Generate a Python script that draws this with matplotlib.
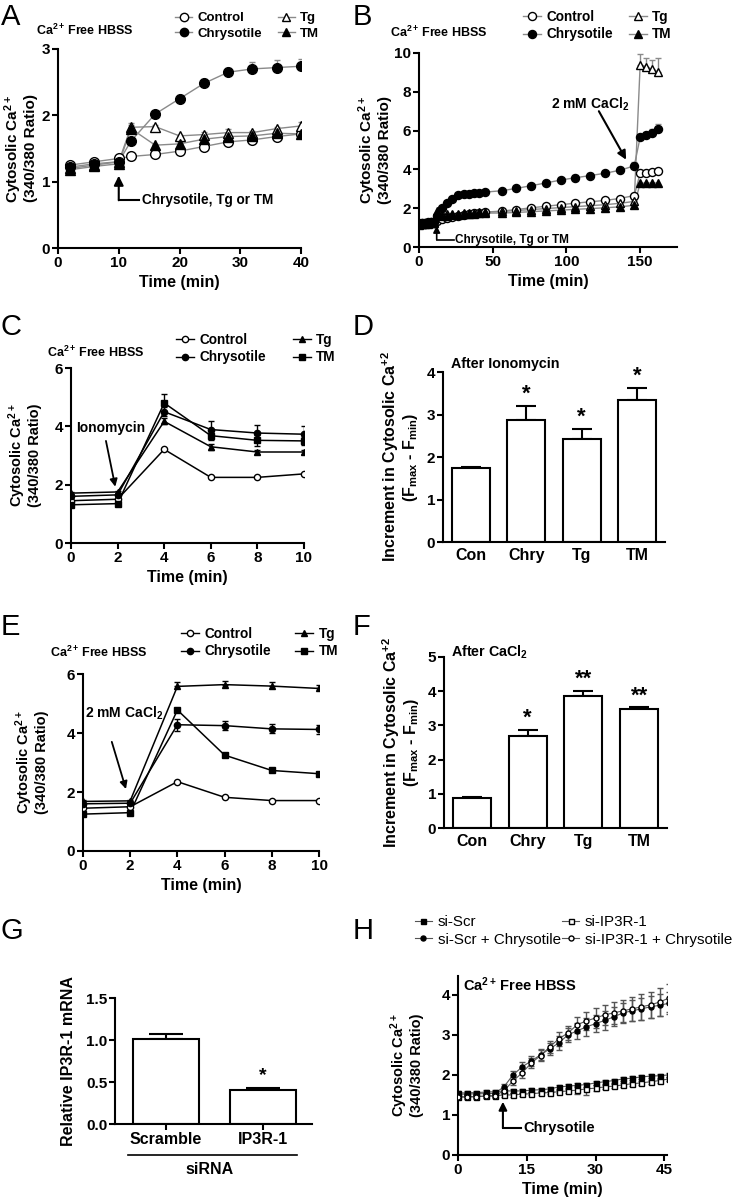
import matplotlib
matplotlib.use('Agg')
import matplotlib.pyplot as plt
from matplotlib.lines import Line2D
import numpy as np

W, H = 745, 1201
plt.rcParams.update({
    'font.family': ['Liberation Sans', 'DejaVu Sans'],
    'font.weight': 'bold',
    'axes.labelweight': 'bold',
    'mathtext.fontset': 'custom',
    'mathtext.rm': 'Liberation Sans:bold',
    'mathtext.it': 'Liberation Sans:bold',
    'mathtext.bf': 'Liberation Sans:bold',
    'mathtext.sf': 'Liberation Sans:bold',
    'axes.linewidth': 1.5,
    'xtick.major.width': 1.5, 'ytick.major.width': 1.5,
    'xtick.major.size': 4, 'ytick.major.size': 4,
    'xtick.labelsize': 11, 'ytick.labelsize': 11,
    'xtick.major.pad': 1.5, 'ytick.major.pad': 1.5,
})

# ---------------- data ----------------
# Panel A
a_time = [2, 6, 10, 12, 16, 20, 24, 28, 32, 36, 40]
a_control = [1.25, 1.30, 1.35, 1.38, 1.41, 1.46, 1.53, 1.60, 1.63, 1.68, 1.72]
a_control_err = [0.02, 0.02, 0.02, 0.02, 0.02, 0.04, 0.05, 0.03, 0.03, 0.04, 0.04]
a_chry = [1.22, 1.27, 1.30, 1.61, 2.02, 2.25, 2.48, 2.65, 2.70, 2.72, 2.74]
a_chry_err = [0.02, 0.02, 0.02, 0.03, 0.03, 0.05, 0.07, 0.07, 0.10, 0.11, 0.11]
a_tg = [1.20, 1.25, 1.30, 1.82, 1.83, 1.69, 1.71, 1.74, 1.74, 1.80, 1.84]
a_tg_err = [0.02, 0.02, 0.02, 0.06, 0.02, 0.02, 0.04, 0.06, 0.03, 0.03, 0.06]
a_tm = [1.18, 1.23, 1.27, 1.80, 1.55, 1.57, 1.64, 1.68, 1.69, 1.73, 1.72]
a_tm_err = [0.02, 0.02, 0.02, 0.05, 0.02, 0.03, 0.04, 0.04, 0.04, 0.03, 0.03]

# Panel B
b_time = [0, 2, 4, 6, 8, 10, 12, 15.5, 19, 22.5, 26.5, 30.5, 34, 37.5, 41, 45,
          56, 66, 76, 86, 96, 106, 116, 126, 136, 146, 150, 154, 158, 162]
b_control = [1.20, 1.22, 1.24, 1.25, 1.27, 1.28, 1.35, 1.45, 1.50, 1.55, 1.60, 1.65, 1.70, 1.73, 1.76, 1.80,
             1.85, 1.93, 2.02, 2.10, 2.18, 2.26, 2.33, 2.40, 2.50, 2.65, 3.80, 3.83, 3.87, 3.93]
b_chry = [1.22, 1.24, 1.25, 1.27, 1.28, 1.30, 1.60, 2.03, 2.25, 2.50, 2.66, 2.72, 2.75, 2.77, 2.78, 2.83,
          2.90, 3.02, 3.16, 3.30, 3.45, 3.57, 3.68, 3.80, 3.95, 4.18, 5.65, 5.77, 5.89, 6.07]
b_chry_err = [0.05, 0.05, 0.05, 0.05, 0.05, 0.05, 0.08, 0.08, 0.08, 0.08, 0.08, 0.08, 0.08, 0.08, 0.08, 0.08,
              0.10, 0.10, 0.10, 0.10, 0.12, 0.12, 0.12, 0.12, 0.15, 0.18, 0.15, 0.18, 0.20, 0.28]
b_tg = [1.18, 1.20, 1.22, 1.23, 1.25, 1.27, 1.65, 1.68, 1.68, 1.70, 1.72, 1.73, 1.75, 1.76, 1.78, 1.80,
        1.83, 1.88, 1.93, 1.98, 2.03, 2.08, 2.13, 2.18, 2.25, 2.35, 9.38, 9.30, 9.16, 9.04]
b_tg_err = [0.05] * 26 + [0.55, 0.45, 0.50, 0.70]
b_tm = [1.15, 1.17, 1.19, 1.20, 1.22, 1.24, 1.85, 1.60, 1.62, 1.65, 1.67, 1.68, 1.70, 1.72, 1.73, 1.75,
        1.75, 1.78, 1.82, 1.86, 1.90, 1.94, 1.98, 2.02, 2.07, 2.15, 3.28, 3.30, 3.30, 3.30]

# Panel C (ionomycin)
c_time = [0, 2, 4, 6, 8, 10]
c_control = [1.45, 1.50, 3.21, 2.25, 2.25, 2.37]
c_chry = [1.60, 1.65, 4.50, 3.89, 3.77, 3.73]
c_chry_err = [0.05, 0.05, 0.15, 0.28, 0.27, 0.27]
c_tg = [1.71, 1.75, 4.17, 3.30, 3.12, 3.12]
c_tg_err = [0.03, 0.03, 0.10, 0.10, 0.08, 0.08]
c_tm = [1.31, 1.35, 4.80, 3.68, 3.52, 3.50]
c_tm_err = [0.03, 0.03, 0.30, 0.15, 0.20, 0.15]

# Panel D
bar_groups = ['Con', 'Chry', 'Tg', 'TM']
d_vals = [1.73, 2.88, 2.43, 3.34]
d_err = [0.04, 0.33, 0.23, 0.29]
d_sig = ['', '*', '*', '*']

# Panel E (CaCl2)
e_time = [0, 2, 4, 6, 8, 10]
e_control = [1.45, 1.50, 2.35, 1.82, 1.71, 1.71]
e_chry = [1.60, 1.62, 4.28, 4.25, 4.14, 4.12]
e_chry_err = [0.04, 0.04, 0.20, 0.16, 0.15, 0.15]
e_tg = [1.68, 1.70, 5.58, 5.64, 5.59, 5.51]
e_tg_err = [0.04, 0.04, 0.14, 0.13, 0.13, 0.12]
e_tm = [1.25, 1.30, 4.78, 3.25, 2.73, 2.62]
e_tm_err = [0.03, 0.03, 0.06, 0.05, 0.05, 0.05]

# Panel F
f_vals = [0.88, 2.70, 3.87, 3.48]
f_err = [0.03, 0.18, 0.15, 0.05]
f_sig = ['', '*', '**', '**']

# Panel G
g_groups = ['Scramble', 'IP3R-1']
g_vals = [1.01, 0.40]
g_err = [0.06, 0.03]
g_sig = ['', '*']

# Panel H
h_time = [0, 2, 4, 6, 8, 10, 12, 14, 16, 18, 20, 22, 24, 26, 28, 30, 32, 34, 36, 38, 40, 42, 44, 46]
h_scr = [1.55, 1.55, 1.56, 1.57, 1.58, 1.60, 1.60, 1.60, 1.62, 1.63, 1.65, 1.70, 1.72, 1.74,
         1.76, 1.80, 1.83, 1.86, 1.90, 1.92, 1.95, 1.97, 1.98, 2.00]
h_scr_err = [0.05] * 24
h_scr_chry = [1.52, 1.52, 1.53, 1.53, 1.54, 1.70, 2.00, 2.20, 2.35, 2.50, 2.65, 2.80, 3.00, 3.10,
              3.20, 3.28, 3.36, 3.45, 3.55, 3.60, 3.65, 3.70, 3.74, 3.79]
h_scr_chry_err = [0.05, 0.05, 0.05, 0.05, 0.05, 0.08, 0.10, 0.12, 0.12, 0.14, 0.15, 0.17, 0.18, 0.20,
                  0.22, 0.22, 0.24, 0.24, 0.25, 0.26, 0.27, 0.28, 0.28, 0.28]
h_ip3 = [1.45, 1.45, 1.46, 1.47, 1.48, 1.50, 1.50, 1.52, 1.53, 1.55, 1.56, 1.58, 1.60, 1.62,
         1.65, 1.67, 1.70, 1.72, 1.75, 1.78, 1.80, 1.83, 1.86, 1.90]
h_ip3_err = [0.04] * 13 + [0.10, 0.15, 0.08] + [0.05] * 8
h_ip3_chry = [1.45, 1.45, 1.46, 1.47, 1.48, 1.60, 1.85, 2.05, 2.30, 2.48, 2.70, 2.90, 3.05, 3.25,
              3.35, 3.42, 3.50, 3.55, 3.60, 3.65, 3.70, 3.75, 3.82, 3.92]
h_ip3_chry_err = [0.05, 0.05, 0.05, 0.05, 0.05, 0.08, 0.10, 0.12, 0.12, 0.14, 0.15, 0.17, 0.18, 0.20,
                  0.22, 0.24, 0.25, 0.27, 0.28, 0.30, 0.32, 0.33, 0.35, 0.36]

# ---------------- helpers ----------------
fig = plt.figure(figsize=(W / 100, H / 100), dpi=100)

HBSS = 'Ca$^{2+}\\,$Free HBSS'
YLAB = 'Cytosolic Ca$^{2+}$\n(340/380 Ratio)'


def add_ax(x0, ytop, x1, ybot):
    ax = fig.add_axes([x0 / W, 1 - ybot / H, (x1 - x0) / W, (ybot - ytop) / H])
    ax.spines['top'].set_visible(False)
    ax.spines['right'].set_visible(False)
    ax.tick_params(direction='out')
    return ax


def letter(x, y, s):
    fig.text(x / W, 1 - y / H, s, fontsize=21, fontweight='normal', ha='left', va='top')


def ftext(x, y, s, **kw):
    fig.text(x / W, 1 - y / H, s, **kw)


def series(ax, x, y, err, marker, filled, color, ms, lw, both=False, capsize=2.5):
    if err is not None:
        lo = err if both else [0] * len(err)
        ax.errorbar(x, y, yerr=[lo, err], fmt='none', ecolor=color, elinewidth=1,
                    capsize=capsize, capthick=1, zorder=2)
    ax.plot(x, y, color=color, lw=lw, zorder=3)
    ax.plot(x, y, ls='none', marker=marker, ms=ms, mfc='k' if filled else 'white',
            mec='k', mew=1, zorder=4)


def handle(marker, filled, color, ms, lw):
    return Line2D([], [], color=color, lw=lw, marker=marker, ms=ms,
                  mfc='k' if filled else 'white', mec='k', mew=1)


def legend_at(ax, handles, labels, x, y, fs, weight='bold', hl=1.3, cs=1.2):
    ax.legend(handles, labels, ncol=2, loc='upper left', bbox_to_anchor=(x / W, 1 - y / H),
              bbox_transform=fig.transFigure, frameon=False, borderpad=0, borderaxespad=0,
              handlelength=hl, handletextpad=0.4, columnspacing=cs, labelspacing=0.25,
              prop={'size': fs, 'weight': weight})


gray = '#8a8a8a'
labels4 = ['Control', 'Chrysotile', 'Tg', 'TM']

# ---------------- Panel A ----------------
ax = add_ax(58, 49, 301, 248)
series(ax, a_time, a_control, a_control_err, 'o', False, gray, 7, 1)
series(ax, a_time, a_tg, a_tg_err, '^', False, gray, 7, 1)
series(ax, a_time, a_tm, a_tm_err, '^', True, gray, 7, 1)
series(ax, a_time, a_chry, a_chry_err, 'o', True, gray, 7, 1)
ax.set_xlim(0, 40)
ax.set_ylim(0, 3)
ax.set_xticks([0, 10, 20, 30, 40])
ax.set_yticks([0, 1, 2, 3])
ax.set_xlabel('Time (min)', fontsize=11.5)
ax.set_ylabel(YLAB, fontsize=11, labelpad=3, linespacing=1.0)
ax.annotate('', xy=(10, 1.09), xytext=(10, 0.72),
            arrowprops=dict(arrowstyle='-|>', lw=1.5, color='k', mutation_scale=14, shrinkA=0, shrinkB=0))
ax.plot([10, 13.3], [0.73, 0.73], color='k', lw=1.5)
ax.text(13.8, 0.73, 'Chrysotile, Tg or TM', fontsize=9.8, va='center', ha='left')
legend_at(ax, [handle('o', False, gray, 6, 1), handle('o', True, gray, 6, 1),
               handle('^', False, gray, 6, 1), handle('^', True, gray, 6, 1)],
          labels4, 175, 12, 9.5)
ftext(36, 30, HBSS, fontsize=9, va='center')
letter(1, 3, 'A')

# ---------------- Panel B ----------------
ax = add_ax(419, 53, 677, 247)
series(ax, b_time, b_control, [0.05] * 30, 'o', False, gray, 5.8, 1)
series(ax, b_time, b_tg, b_tg_err, '^', False, gray, 5.8, 1)
series(ax, b_time, b_tm, None, '^', True, gray, 5.8, 1)
series(ax, b_time, b_chry, b_chry_err, 'o', True, gray, 5.8, 1)
ax.set_xlim(0, 175)
ax.set_ylim(0, 10)
ax.set_xticks([0, 50, 100, 150])
ax.set_yticks([0, 2, 4, 6, 8, 10])
ax.set_xlabel('Time (min)', fontsize=11.5)
ax.set_ylabel(YLAB, fontsize=11, labelpad=2, linespacing=1.0)
ax.annotate('', xy=(12, 1.1), xytext=(12, 0.38),
            arrowprops=dict(arrowstyle='-|>', lw=1.2, color='k', mutation_scale=10, shrinkA=0, shrinkB=0))
ax.plot([12, 23.5], [0.38, 0.38], color='k', lw=1.2)
ax.text(24.5, 0.38, 'Chrysotile, Tg or TM', fontsize=8.5, va='center', ha='left')
ax.annotate('', xy=(140.5, 4.5), xytext=(122, 7.0),
            arrowprops=dict(arrowstyle='-|>', lw=1.5, color='k', mutation_scale=13, shrinkA=0, shrinkB=0))
ax.text(116, 7.35, '2 mM CaCl$_2$', fontsize=10, ha='center', va='center')
legend_at(ax, [handle('o', False, gray, 5.8, 1), handle('o', True, gray, 5.8, 1),
               handle('^', False, gray, 5.8, 1), handle('^', True, gray, 5.8, 1)],
          labels4, 523, 10, 9.8)
ftext(390, 32, HBSS, fontsize=9, va='center')
letter(353, 3, 'B')

# ---------------- Panel C ----------------
ax = add_ax(71, 368, 304, 543)
series(ax, c_time, c_control, None, 'o', False, 'k', 4.5, 1.1)
series(ax, c_time, c_tg, c_tg_err, '^', True, 'k', 4.5, 1.1, both=True)
series(ax, c_time, c_tm, c_tm_err, 's', True, 'k', 4.5, 1.1, both=True)
series(ax, c_time, c_chry, c_chry_err, 'o', True, 'k', 4.5, 1.1, both=True)
ax.set_xlim(0, 10)
ax.set_ylim(0, 6)
ax.set_xticks([0, 2, 4, 6, 8, 10])
ax.set_yticks([0, 2, 4, 6])
ax.set_xlabel('Time (min)', fontsize=11.5)
ax.set_ylabel(YLAB, fontsize=10.5, labelpad=9, linespacing=1.0)
ax.annotate('', xy=(1.9, 1.93), xytext=(1.5, 3.5),
            arrowprops=dict(arrowstyle='-|>', lw=1.3, color='k', mutation_scale=11, shrinkA=0, shrinkB=0))
ax.text(1.72, 3.95, 'Ionomycin', fontsize=10, ha='center', va='center')
legend_at(ax, [handle('o', False, 'k', 4.5, 1), handle('o', True, 'k', 4.5, 1),
               handle('^', True, 'k', 4.5, 1), handle('s', True, 'k', 4.5, 1)],
          labels4, 176, 333, 9.8, cs=2.0)
ftext(47, 352, HBSS, fontsize=9, va='center')
letter(1, 313, 'C')

# ---------------- Panel D ----------------
ax = add_ax(443, 372, 665, 542)
xb = np.arange(len(bar_groups))
ax.bar(xb, d_vals, width=0.68, color='white', edgecolor='k', linewidth=1.5, zorder=2)
ax.errorbar(xb, d_vals, yerr=[[0] * 4, d_err], fmt='none', ecolor='k', elinewidth=1.5,
            capsize=7, capthick=1.5, zorder=1)
for xi, v, e, s in zip(xb, d_vals, d_err, d_sig):
    if s:
        ax.text(xi, v + e + 0.02, s, fontsize=16, ha='center', va='bottom')
ax.set_xlim(-0.5, 3.5)
ax.set_ylim(0, 4)
ax.set_xticks(xb)
ax.set_xticklabels(bar_groups, fontsize=11.5)
ax.tick_params(axis='x', length=0, pad=4)
ax.set_yticks([0, 1, 2, 3, 4])
ax.set_ylabel('Increment in Cytosolic Ca$^{+2}$\n(F$_{\\mathrm{max}}$ - F$_{\\mathrm{min}}$)',
              fontsize=11.5, labelpad=5, linespacing=1.0)
ftext(451, 364, 'After Ionomycin', fontsize=10.3, va='center')
letter(353, 313, 'D')

# ---------------- Panel E ----------------
ax = add_ax(83, 674, 319, 851)
series(ax, e_time, e_control, None, 'o', False, 'k', 4.5, 1.1)
series(ax, e_time, e_tg, e_tg_err, '^', True, 'k', 4.5, 1.1)
series(ax, e_time, e_tm, e_tm_err, 's', True, 'k', 4.5, 1.1, both=True)
series(ax, e_time, e_chry, e_chry_err, 'o', True, 'k', 4.5, 1.1, both=True)
ax.set_xlim(0, 10)
ax.set_ylim(0, 6)
ax.set_xticks([0, 2, 4, 6, 8, 10])
ax.set_yticks([0, 2, 4, 6])
ax.set_xlabel('Time (min)', fontsize=11.5)
ax.set_ylabel(YLAB, fontsize=10.5, labelpad=13, linespacing=1.0)
ax.annotate('', xy=(1.82, 2.1), xytext=(1.22, 3.7),
            arrowprops=dict(arrowstyle='-|>', lw=1.3, color='k', mutation_scale=11, shrinkA=0, shrinkB=0))
ax.text(1.74, 4.68, '2 mM CaCl$_2$', fontsize=10, ha='center', va='center')
legend_at(ax, [handle('o', False, 'k', 4.5, 1), handle('o', True, 'k', 4.5, 1),
               handle('^', True, 'k', 4.5, 1), handle('s', True, 'k', 4.5, 1)],
          labels4, 181, 627, 9.8, cs=1.8)
ftext(50, 652, HBSS, fontsize=9, va='center')
letter(1, 613, 'E')

# ---------------- Panel F ----------------
ax = add_ax(444, 657, 667, 828)
ax.bar(xb, f_vals, width=0.68, color='white', edgecolor='k', linewidth=1.5, zorder=2)
ax.errorbar(xb, f_vals, yerr=[[0] * 4, f_err], fmt='none', ecolor='k', elinewidth=1.5,
            capsize=7, capthick=1.5, zorder=1)
for xi, v, e, s in zip(xb, f_vals, f_err, f_sig):
    if s:
        ax.text(xi, v + e + 0.02, s, fontsize=16, ha='center', va='bottom')
ax.set_xlim(-0.5, 3.5)
ax.set_ylim(0, 5)
ax.set_xticks(xb)
ax.set_xticklabels(bar_groups, fontsize=11.5)
ax.tick_params(axis='x', length=0, pad=4)
ax.set_yticks([0, 1, 2, 3, 4, 5])
ax.set_ylabel('Increment in Cytosolic Ca$^{+2}$\n(F$_{\\mathrm{max}}$ - F$_{\\mathrm{min}}$)',
              fontsize=11.5, labelpad=5, linespacing=1.0)
ftext(451, 652, 'After CaCl$_2$', fontsize=10.3, va='center')
letter(353, 613, 'F')

# ---------------- Panel G ----------------
ax = add_ax(115, 998, 312, 1124)
xg = np.arange(len(g_groups))
ax.bar(xg, g_vals, width=0.68, color='white', edgecolor='k', linewidth=1.5, zorder=2)
ax.errorbar(xg, g_vals, yerr=[[0] * 2, g_err], fmt='none', ecolor='k', elinewidth=1.5,
            capsize=12, capthick=1.5, zorder=1)
for xi, v, e, s in zip(xg, g_vals, g_err, g_sig):
    if s:
        ax.text(xi, v + e + 0.05, s, fontsize=14, ha='center', va='bottom')
ax.set_xlim(-0.52, 1.5)
ax.set_ylim(0, 1.5)
ax.set_xticks(xg)
ax.set_xticklabels(g_groups, fontsize=11.5)
ax.set_yticks([0, 0.5, 1.0, 1.5])
ax.set_yticklabels(['0.0', '0.5', '1.0', '1.5'])
ax.set_ylabel('Relative IP3R-1 mRNA', fontsize=11.5, labelpad=7)
fig.add_artist(Line2D([128 / W, 297 / W], [1 - 1155 / H, 1 - 1155 / H], color='k', lw=1.2))
ftext(210, 1169, 'siRNA', fontsize=11.5, ha='center', va='center')
letter(1, 917, 'G')

# ---------------- Panel H ----------------
ax = add_ax(458, 976, 667, 1155)
hgray = '#555555'
series(ax, h_time, h_scr, h_scr_err, 's', True, hgray, 3.6, 0.8, both=True, capsize=2)
series(ax, h_time, h_ip3, h_ip3_err, 's', False, hgray, 3.6, 0.8, both=True, capsize=2)
series(ax, h_time, h_scr_chry, h_scr_chry_err, 'o', True, hgray, 3.6, 0.8, both=True, capsize=2)
series(ax, h_time, h_ip3_chry, h_ip3_chry_err, 'o', False, hgray, 3.6, 0.8, both=True, capsize=2)
ax.set_xlim(0, 45.6)
ax.set_ylim(0, 4.47)
ax.set_xticks([0, 15, 30, 45])
ax.set_yticks([0, 1, 2, 3, 4])
ax.set_xlabel('Time (min)', fontsize=11.5)
ax.set_ylabel(YLAB, fontsize=10.5, labelpad=13, linespacing=1.0)
ax.annotate('', xy=(9.8, 1.33), xytext=(9.8, 0.68),
            arrowprops=dict(arrowstyle='-|>', lw=1.5, color='k', mutation_scale=12, shrinkA=0, shrinkB=0))
ax.plot([9.8, 13.8], [0.68, 0.68], color='k', lw=1.5)
ax.text(14.3, 0.68, 'Chrysotile', fontsize=10.5, va='center', ha='left')
ax.text(1.0, 4.25, HBSS, fontsize=10.5, va='center', ha='left')
legend_at(ax, [handle('s', True, hgray, 3.6, 0.8), handle('o', True, hgray, 3.6, 0.8),
               handle('s', False, hgray, 3.6, 0.8), handle('o', False, hgray, 3.6, 0.8)],
          ['si-Scr', 'si-Scr + Chrysotile', 'si-IP3R-1', 'si-IP3R-1 + Chrysotile'],
          415, 915, 10.9, weight='normal', hl=1.1, cs=0.1)
letter(353, 917, 'H')

fig.savefig('out.png', dpi=100)
